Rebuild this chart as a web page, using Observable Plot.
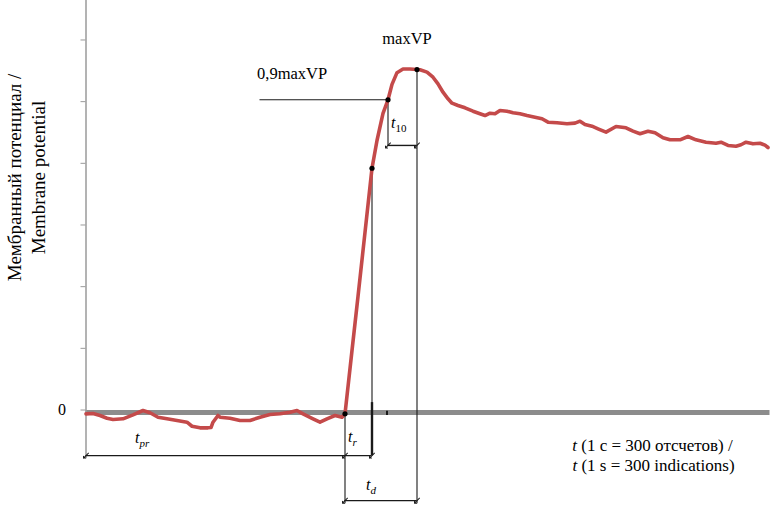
<!DOCTYPE html>
<html><head><meta charset="utf-8">
<script src="https://cdn.jsdelivr.net/npm/d3@7"></script>
<script src="https://cdn.jsdelivr.net/npm/@observablehq/plot@0.6"></script>
<style>
body{margin:0;background:#fff}
#chart svg{display:block}
</style>
</head><body><div id="chart"></div>
<script>
// Membrane potential trace (time in indications, potential in relative units)
const time = [0,7,14,21,27,37,47,57,64,72,81,91,101,106,114,122,125,127,132,134,144,154,164,174,184,194,204,211,217,227,234,241,249,256,259,
  266,272,279,286,291,297,302,306,311,317,324,331,334,341,347,352,357,362,366,372,379,387,394,399,404,409,414,421,427,434,441,449,456,462,471,481,489,494,499,506,512,
  520,530,540,547,554,562,569,577,584,594,602,610,620,630,635,642,650,655,660,667,674,679,682];
const potential = [-0.62,-0.57,-0.89,-1.33,-1.54,-1.43,-0.78,-0.08,-0.45,-1.17,-1.43,-1.7,-1.98,-2.63,-2.89,-2.89,-2.84,-1.98,-0.89,-1.17,-1.33,-1.7,-1.7,-1.17,-0.73,-0.62,-0.36,-0.08,-0.62,-1.43,-1.98,-1.43,-0.89,-1.17,-0.62,
  9.65,18.4,28.8,39.2,43.7,48.1,50.3,52.8,54.7,55.3,55.3,55.2,55.16,54.78,53.96,52.89,51.53,50.46,49.75,49.38,49.0,48.45,48.03,47.75,48.13,48.03,48.57,48.45,48.19,48.03,47.75,47.48,47.22,46.67,46.57,46.41,46.51,46.83,46.29,46.02,45.6,
  45.05,45.97,45.76,45.21,44.79,45.21,44.95,44.14,43.81,43.81,44.35,43.81,43.42,43.26,43.42,42.89,42.78,43.01,43.42,43.16,43.26,42.94,42.56];

// Key points: onset, end of t_r, 0.9·maxVP, maxVP
const keyTimes = [259, 286, 302, 331];
const keyValues = [-0.62, 39.2, 50.3, 55.2];
const dropBottoms = [-15.2, -7.4, 42.9, -15.2];
const guideStartTime = 174;

// Interval brackets: t_pr, t_d, t_10
const bracketStart = [0, 259, 302];
const bracketEnd = [286, 331, 331];
const bracketLevel = [-7.4, -14.7, 42.9];
const endTimes = [0, 259, 286, 259, 331, 302, 331];
const endLevels = [-7.4, -7.4, -7.4, -14.7, -14.7, 42.9, 42.9];

// Interval labels
const intervalNames = ["pr", "r", "d", "10"];
const intervalLabelT = [49, 262, 280, 305];
const intervalLabelV = [-4.6, -4.3, -12.2, 46.6];

const yTicks = [0, 10, 20, 30, 40, 50, 60];
const yTitle = "Мембранный потенциал /\nMembrane potential";
const xTitleLines = ["t (1 c = 300 отсчетов) /", "t (1 s = 300 indications)"];
const peakLabel = "maxVP";
const ninetyLabel = "0,9maxVP";
const peakLabelT = 321, peakLabelV = 60.2;
const ninetyLabelT = 171, ninetyLabelV = 54.6;

const trace = time.map((t, i) => ({t, v: potential[i]}));
const idx = a => d3.range(a.length);
const ink = "#1a1a1a";
const red = "#c44a4a";
const serif = "Liberation Serif";

const chart = Plot.plot({
  width: 773, height: 517,
  marginLeft: 85.5, marginRight: 3.5, marginTop: 0, marginBottom: 0,
  style: {fontSize: "16px", background: "#fff", color: "#000", fontFamily: serif},
  x: {domain: [0, 684], axis: null},
  y: {domain: [-17.43, 66.4], axis: null},
  marks: [
    Plot.ruleY([0], {x1: 0, x2: 684, stroke: "#8c8c8c", strokeWidth: 5, dy: 2.5}),
    Plot.ruleX([0], {y1: -7.9, y2: 66.4, stroke: "#9a9a9a", strokeWidth: 1.5}),
    Plot.axisY(yTicks, {anchor: "left", tickSize: 5, tickPadding: 15, stroke: "#9a9a9a", fill: "#000",
      tickFormat: d => d === 0 ? "0" : "", fontSize: 16, label: null}),
    // 0.9 maxVP guide
    Plot.ruleY([keyValues[2]], {x1: guideStartTime, x2: keyTimes[2], stroke: ink, strokeWidth: 1.1}),
    // vertical drops
    Plot.ruleX(idx(keyTimes), {x: i => keyTimes[i], y1: i => keyValues[i], y2: i => dropBottoms[i], stroke: ink, strokeWidth: 1.1}),
    // brackets
    Plot.ruleY(idx(bracketStart), {y: i => bracketLevel[i], x1: i => bracketStart[i], x2: i => bracketEnd[i], stroke: ink, strokeWidth: 1.4}),
    Plot.vector(idx(endTimes), {x: i => endTimes[i], y: i => endLevels[i], length: 7, rotate: 225, anchor: "middle", stroke: ink, strokeWidth: 1}),
    // small marks on time axis
    Plot.ruleX([keyTimes[1]], {y1: 1.2, y2: -7.4, stroke: ink, strokeWidth: 2.4}),
    Plot.ruleX([keyTimes[2] - 1], {y1: -0.2, y2: -0.9, stroke: ink, strokeWidth: 2}),
    // trace
    Plot.line(trace, {x: "t", y: "v", stroke: red, strokeWidth: 3.6, curve: "linear", strokeLinejoin: "round"}),
    Plot.dot(idx(keyTimes), {x: i => keyTimes[i], y: i => keyValues[i], r: 2.6, fill: "#000", stroke: "none"}),
    // text labels
    Plot.text([peakLabel], {x: peakLabelT, y: peakLabelV, text: d => d, fontSize: 16.5, textAnchor: "middle"}),
    Plot.text([ninetyLabel], {x: ninetyLabelT, y: ninetyLabelV, text: d => d, fontSize: 16.5, textAnchor: "start"}),
    Plot.text(idx(intervalNames), {x: i => intervalLabelT[i], y: i => intervalLabelV[i], text: i => intervalNames[i],
      fontSize: 16, fontStyle: "italic", textAnchor: "start", className: "ivl"}),
    Plot.text([yTitle], {frameAnchor: "top-left", dx: -60.5, dy: 177, rotate: -90, text: d => d, fontSize: 19,
      lineHeight: 1.25, textAnchor: "middle", lineAnchor: "middle"}),
    Plot.text([xTitleLines[0]], {frameAnchor: "top-left", dx: 566.5, dy: 438, text: d => d, fontSize: 17, textAnchor: "middle", className: "xt"}),
    Plot.text([xTitleLines[1]], {frameAnchor: "top-left", dx: 567.5, dy: 458, text: d => d, fontSize: 17, textAnchor: "middle", className: "xt"})
  ]
});

// italic "t" with subscripts for interval labels
chart.querySelectorAll("g.ivl text").forEach(t => {
  const sub = t.textContent;
  t.textContent = "";
  const main = document.createElementNS("http://www.w3.org/2000/svg", "tspan");
  main.textContent = "t";
  const s = document.createElementNS("http://www.w3.org/2000/svg", "tspan");
  s.textContent = sub;
  s.setAttribute("font-size", "11");
  s.setAttribute("dy", "4");
  if (/\d/.test(sub)) s.setAttribute("font-style", "normal");
  t.append(main, s);
});
chart.querySelectorAll("g.xt text").forEach(t => {
  const rest = t.textContent.slice(1);
  t.textContent = "";
  const it = document.createElementNS("http://www.w3.org/2000/svg", "tspan");
  it.textContent = "t";
  it.setAttribute("font-style", "italic");
  t.append(it, document.createTextNode(rest));
});
// serif on the svg and every text element (attribute and style)
chart.setAttribute("font-family", serif);
chart.querySelectorAll("g, text").forEach(el => el.setAttribute("font-family", serif));
chart.querySelectorAll("text").forEach(t => { t.style.fontFamily = serif; });
document.getElementById("chart").append(chart);
</script>
</body></html>
